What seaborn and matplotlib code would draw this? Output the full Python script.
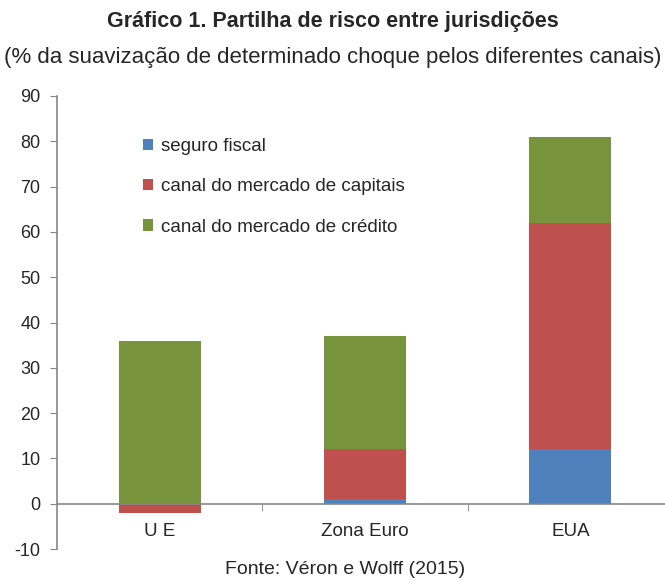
import numpy as np
import seaborn as sns
import matplotlib.pyplot as plt
from matplotlib.ticker import FixedLocator

# dados do gráfico
categorias = ["U E", "Zona Euro", "EUA"]
seguro_fiscal = [0, 1, 12]
mercado_capitais = [-2, 11, 50]
mercado_credito = [36, 25, 19]

series = ["seguro fiscal", "canal do mercado de capitais", "canal do mercado de crédito"]
cores = ["#4F81BD", "#C0504D", "#77933C"]
valores = [seguro_fiscal, mercado_capitais, mercado_credito]

sns.set_style("white")
plt.rcParams['font.family'] = ['Liberation Sans', 'DejaVu Sans']
plt.rcParams['axes.unicode_minus'] = False

fig = plt.figure(figsize=(6.65, 5.8), dpi=100)
ax = fig.add_axes([57 / 665, 31 / 580, 616 / 665, 453 / 580])

# empilhar positivos e negativos separadamente (como no Excel)
pos = np.zeros(len(categorias))
neg = np.zeros(len(categorias))
for nome, cor, vals in zip(series, cores, valores):
    vals = np.array(vals, dtype=float)
    base = np.where(vals >= 0, pos, neg)
    sns.barplot(x=categorias, y=vals, bottom=base, color=cor, width=0.4,
                label=nome, ax=ax, linewidth=0, saturation=1)
    pos = pos + np.where(vals >= 0, vals, 0)
    neg = neg + np.where(vals < 0, vals, 0)

ax.set_xlim(-0.5, 2.5)
ax.set_ylim(-10, 90)
ax.set_yticks(range(-10, 91, 10))

cinza = "#868686"
for s in ["top", "right"]:
    ax.spines[s].set_visible(False)
ax.spines["bottom"].set_position(("data", 0))
ax.spines["bottom"].set_color(cinza)
ax.spines["left"].set_color(cinza)
ax.spines["bottom"].set_linewidth(1.2)
ax.spines["left"].set_linewidth(1.2)

ax.tick_params(axis="y", direction="out", length=5, color=cinza, labelsize=13, pad=7, left=True)
ax.tick_params(axis="x", which="major", length=0, labelsize=13.5, pad=14)
ax.xaxis.set_minor_locator(FixedLocator([0.5, 1.5]))
ax.tick_params(axis="x", which="minor", direction="out", length=5, color=cinza, bottom=True)

ax.legend(loc="upper left", bbox_to_anchor=(0.112, 0.945), frameon=False, fontsize=13.5,
          handlelength=0.55, handleheight=0.55, handletextpad=0.4, labelspacing=1.25)

fig.text(0.5, 1 - 22 / 580, "Gráfico 1. Partilha de risco entre jurisdições",
         ha="center", va="center", fontsize=15.5, fontweight="bold")
fig.text(0.5, 1 - 58 / 580, "(% da suavização de determinado choque pelos diferentes canais)",
         ha="center", va="center", fontsize=16)
fig.text(345 / 665, 1 - 569 / 580, "Fonte: Véron e Wolff (2015)",
         ha="center", va="center", fontsize=14)

fig.savefig("out.png", dpi=100)
